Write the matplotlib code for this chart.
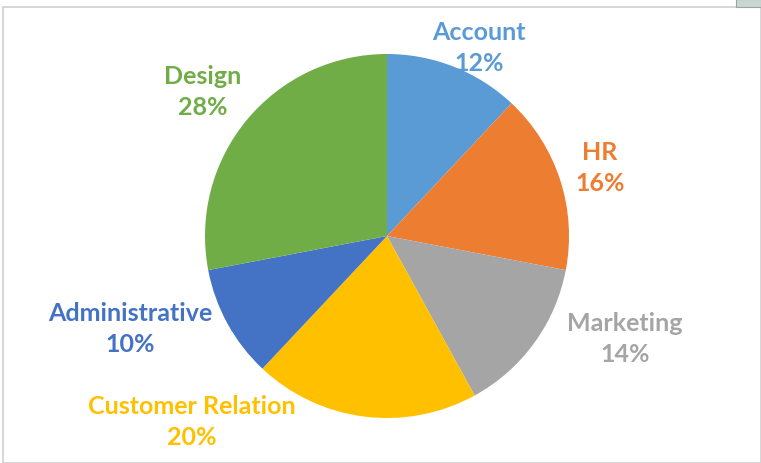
import matplotlib
matplotlib.use("Agg")
import matplotlib.pyplot as plt
from matplotlib.patches import Rectangle

# data
departments = ["Account", "HR", "Marketing", "Customer Relation", "Administrative", "Design"]
shares = [12, 16, 14, 20, 10, 28]
colors = ["#5B9BD5", "#ED7D31", "#A5A5A5", "#FFC000", "#4472C4", "#70AD47"]

W, H = 761, 464
# label centres in pixels from the top-left corner
label_px = [(479, 48), (600, 168), (625, 339), (192, 422), (130, 329), (203, 92)]

plt.rcParams["font.family"] = ["Lato", "DejaVu Sans"]

fig = plt.figure(figsize=(W / 100, H / 100), dpi=100)
ax = fig.add_axes([0, 0, 1, 1])

ax.pie(shares, colors=colors, startangle=90, counterclock=False,
       center=(387, H - 237), radius=182, frame=True)
ax.set_xlim(0, W)
ax.set_ylim(0, H)
ax.set_aspect("equal")
ax.axis("off")

for name, pct, col, (px, py) in zip(departments, shares, colors, label_px):
    ax.text(px, H - py, f"{name}\n{pct}%", color=col, fontsize=18, fontweight="bold",
            ha="center", va="center", linespacing=1.45)

# screenshot frame
fig.patches.append(Rectangle((3 / W, 0), (W - 3) / W, (H - 8) / H, transform=fig.transFigure,
                             fill=False, edgecolor="#d0d0d0", linewidth=1.2))
fig.patches.append(Rectangle((736 / W, (H - 8) / H), 25 / W, 8 / H, transform=fig.transFigure,
                             facecolor="#c9d6d2", edgecolor="#9aa5a2", linewidth=0.8))

fig.savefig("out.png", dpi=100, facecolor="white")
